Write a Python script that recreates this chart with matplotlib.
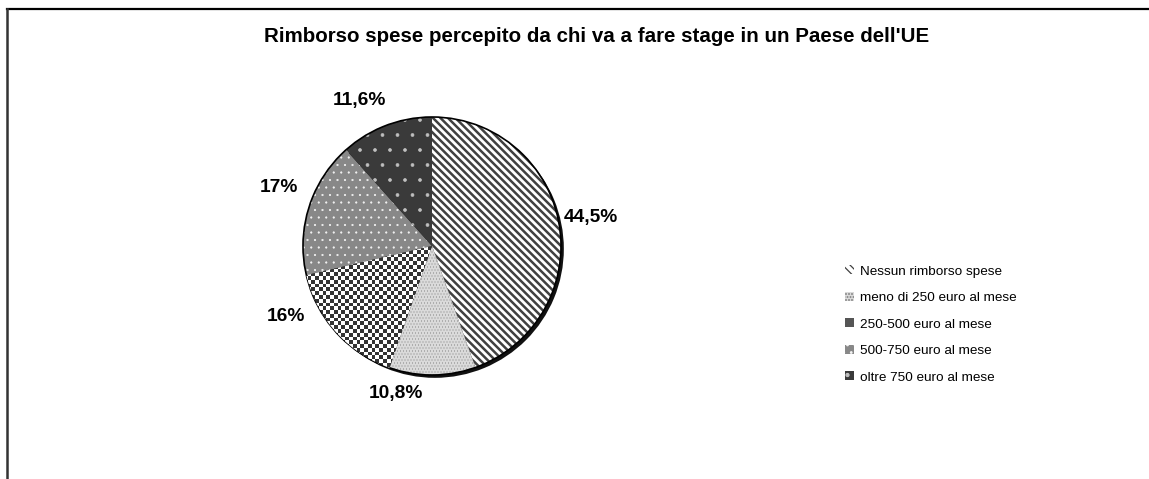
import numpy as np
import matplotlib
matplotlib.use("Agg")
import matplotlib.pyplot as plt
from matplotlib.lines import Line2D

plt.rcParams['font.family'] = ['Liberation Sans', 'DejaVu Sans']

title = "Rimborso spese percepito da chi va a fare stage in un Paese dell'UE"
categories = ["Nessun rimborso spese", "meno di 250 euro al mese", "250-500 euro al mese",
              "500-750 euro al mese", "oltre 750 euro al mese"]
values = [44.5, 10.8, 16.0, 17.0, 11.6]
value_labels = ["44,5%", "10,8%", "16%", "17%", "11,6%"]

# styling (layout only)
faces = ['white', '#dadada', '#555555', '#888888', '#3a3a3a']
hatch_cols = ['#404040', '#7a7a7a', '#555555', '#f4f4f4', '#c0c0c0']
hatches = ['\\\\\\\\', '.....', '', '..', '.']
hatch_lws = [2.0, 0.3, 0.5, 0.5, 0.5]
label_pos = [(1.23, 0.22), (-0.28, -1.14), (-1.13, -0.55), (-1.19, 0.45), (-0.56, 1.13)]

DPI = 90
S = 100 / DPI  # point-size factor so pixel sizes match a 100-dpi layout
W, H = 1149, 479
fig = plt.figure(figsize=(W / DPI, H / DPI), dpi=DPI)

# frame (top and left borders)
fig.add_artist(Line2D([7 / W, 1], [1 - 9 / H, 1 - 9 / H], color='black', lw=1.6 * S))
fig.add_artist(Line2D([7 / W, 7 / W], [0, 1 - 9 / H], color='#333333', lw=1.8 * S))

fig.text(597 / W, 1 - 36 / H, title, ha='center', va='center', fontsize=14.8 * S, fontweight='bold')

R = 129
cx, cy = 432, 246
size = 3 * R
ax = fig.add_axes([(cx - size / 2) / W, (H - cy - size / 2) / H, size / W, size / H])

# shadow
ax.pie([sum(values)], colors=['#111111'], radius=1.0, center=(0.022, -0.022),
       wedgeprops=dict(linewidth=0), frame=True)

wedges, _ = ax.pie(values, startangle=90, counterclock=False, radius=1.0,
                   colors=faces, wedgeprops=dict(linewidth=0), frame=True)
for w, hc, h, hl in zip(wedges, hatch_cols, hatches, hatch_lws):
    w.set_edgecolor(hc)
    w.set_hatch(h)
    if hasattr(w, 'set_hatch_linewidth'):
        w.set_hatch_linewidth(hl)
    w.set_linewidth(0)

# checkerboard texture for third slice
n = 70
checker = (np.indices((n, n)).sum(axis=0) % 2).astype(float)
im = ax.imshow(checker, cmap=matplotlib.colors.ListedColormap(['white', '#333333']),
               extent=(-1.02, 1.02, -1.02, 1.02), interpolation='nearest',
               zorder=wedges[2].get_zorder() + 0.1)
im.set_clip_path(wedges[2])

# outline
ax.pie([sum(values)], colors=['none'], radius=1.0,
       wedgeprops=dict(linewidth=1.2 * S, edgecolor='black', fill=False), frame=True)
ax.set_xlim(-1.5, 1.5)
ax.set_ylim(-1.5, 1.5)
ax.set_aspect('equal')
ax.axis('off')

for (x, y), t in zip(label_pos, value_labels):
    ax.text(x, y, t, ha='center', va='center', fontsize=13.8 * S, fontweight='bold', clip_on=False)

leg = fig.legend(wedges, categories, loc='upper left', bbox_to_anchor=(840 / W, 1 - 260 / H),
                 frameon=False, fontsize=9.7 * S, handlelength=0.65, handleheight=0.65,
                 handletextpad=0.45, labelspacing=1.06, borderaxespad=0)

fig.savefig('out.png', dpi=DPI)
